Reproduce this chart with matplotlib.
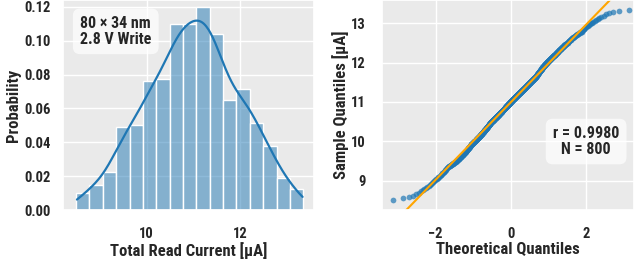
"""Read current distribution: histogram with KDE and a normal Q-Q plot."""

from statistics import NormalDist

import numpy as np
import matplotlib
matplotlib.use("Agg")
import matplotlib.pyplot as plt
import seaborn as sns

# Histogram: 17 bins between the data min and max
DATA_MIN = 8.49
DATA_MAX = 13.35
BIN_COUNTS = [8, 12, 18, 39, 40, 61, 62, 88, 88, 96, 83, 52, 57, 41, 30, 15, 10]
N_SAMPLES = 800
R_VALUE = 0.9980

BOX_LEFT = "80 \u00d7 34 nm\n2.8 V Write"
BOX_RIGHT = "r = %.4f\nN = %d" % (R_VALUE, N_SAMPLES)

BLUE = "#1f77b4"

# Rebuild the sample from the bin counts (values spread evenly in each bin)
edges = np.linspace(DATA_MIN, DATA_MAX, len(BIN_COUNTS) + 1)
sample = []
for i, c in enumerate(BIN_COUNTS):
    lo, hi = edges[i], edges[i + 1]
    sample.extend(lo + (hi - lo) * (np.arange(c) + 0.5) / c)
sample = np.sort(np.array(sample))

# Theoretical quantiles (Filliben plotting positions, as scipy.probplot)
n = len(sample)
m = (np.arange(1, n + 1) - 0.3175) / (n + 0.365)
m[-1] = 0.5 ** (1.0 / n)
m[0] = 1 - m[-1]
nd = NormalDist()
theory = np.array([nd.inv_cdf(p) for p in m])
slope, intercept = np.polyfit(theory, sample, 1)

# Style
sns.set_theme(style="darkgrid")
plt.rcParams['font.family'] = ['Roboto Condensed', 'IBM Plex Sans Condensed', 'DejaVu Sans']
plt.rcParams['font.weight'] = 'bold'
plt.rcParams['axes.labelweight'] = 'bold'
plt.rcParams['axes.facecolor'] = '#EAEAEA'
plt.rcParams['axes.unicode_minus'] = True

box_style = dict(boxstyle='round,pad=0.45', facecolor='white',
                 edgecolor='none', alpha=0.7)

fig = plt.figure(figsize=(6.34, 2.65), dpi=100)
ax1 = fig.add_axes([63 / 634, 55 / 265, 251 / 634, 210 / 265])
ax2 = fig.add_axes([382 / 634, 55 / 265, 252 / 634, 210 / 265])

# Left: histogram + KDE
sns.histplot(sample, bins=edges, stat="probability", kde=True,
             color=BLUE, alpha=0.5, edgecolor="white", linewidth=1.0,
             line_kws={"linewidth": 1.6}, ax=ax1)
ax1.set_xlim(8.21, 13.58)
ax1.set_ylim(0, 0.124)
ax1.set_yticks(np.arange(0, 0.121, 0.02))
ax1.yaxis.set_major_formatter(matplotlib.ticker.FormatStrFormatter('%.2f'))
ax1.set_xticks([10, 12])
ax1.set_xlabel("Total Read Current [\u00b5A]", fontsize=12, labelpad=1)
ax1.set_ylabel("Probability", fontsize=12, labelpad=2)
ax1.tick_params(axis='both', labelsize=10.5, length=0)
ax1.tick_params(axis='x', pad=12)
ax1.tick_params(axis='y', pad=9)
ax1.text(0.068, 0.925, BOX_LEFT, transform=ax1.transAxes, fontsize=11.5,
         fontweight='bold', va='top', ha='left', linespacing=1.1,
         bbox=box_style)

# Right: Q-Q plot
ax2.scatter(theory, sample, s=17, color=BLUE, alpha=0.7, linewidths=0)
xl = np.array([-3.5, 3.5])
ax2.plot(xl, slope * xl + intercept, color="orange", linewidth=1.5)
ax2.set_xlim(-3.42, 3.26)
ax2.set_ylim(8.25, 13.59)
ax2.set_xticks([-2, 0, 2])
ax2.set_yticks([9, 10, 11, 12, 13])
ax2.set_xlabel("Theoretical Quantiles", fontsize=12, labelpad=1)
ax2.set_ylabel("Sample Quantiles [\u00b5A]", fontsize=12, labelpad=1)
ax2.tick_params(axis='both', labelsize=10.5, length=0)
ax2.tick_params(axis='x', pad=12)
ax2.tick_params(axis='y', pad=12)
ax2.text(0.81, 0.326, BOX_RIGHT, transform=ax2.transAxes, fontsize=11.5,
         fontweight='bold', va='center', ha='center', linespacing=1.1,
         bbox=box_style)

fig.savefig("out.png", dpi=100)
